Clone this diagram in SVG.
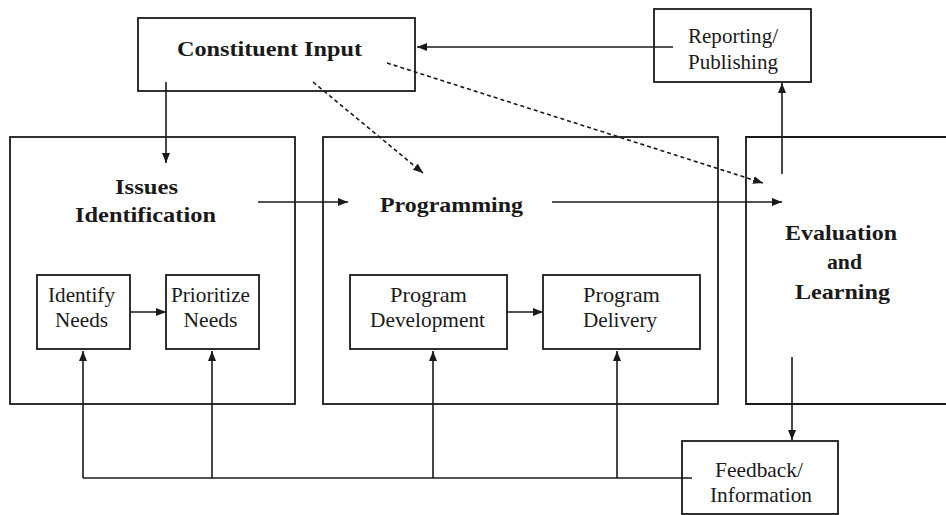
<svg xmlns="http://www.w3.org/2000/svg" width="946" height="515" viewBox="0 0 946 515">
<style>
.box{fill:none;stroke:#1a1a1a;stroke-width:1.8}
text{font-family:'Liberation Serif','DejaVu Serif',Times,serif;fill:#1a1a1a;text-anchor:middle}
.t{font-size:22px}
.b{font-size:21px;font-weight:bold}
.c{fill:none;stroke:#1a1a1a;stroke-width:1.6}
.d{stroke-dasharray:4 3}
</style>
<defs>
<marker id="ah" markerUnits="userSpaceOnUse" markerWidth="11" markerHeight="9" refX="10" refY="4" orient="auto">
<path d="M0,0 L10,4 L0,8 z" fill="#1a1a1a"/>
</marker>
</defs>
<rect width="946" height="515" fill="#fff"/>
<g id="constituent-input">
<rect class="box" x="138" y="18" width="277" height="73"/>
<text class="b" x="269.5" y="56" textLength="185" lengthAdjust="spacingAndGlyphs">Constituent Input</text>
</g>
<g id="reporting">
<rect class="box" x="654" y="9" width="157" height="73"/>
<text class="t" x="733" y="43" textLength="90" lengthAdjust="spacingAndGlyphs">Reporting/</text>
<text class="t" x="733" y="69" textLength="90" lengthAdjust="spacingAndGlyphs">Publishing</text>
</g>
<g id="issues-identification">
<rect class="box" x="10" y="137" width="285" height="267"/>
<text class="b" x="146.5" y="194" textLength="63" lengthAdjust="spacingAndGlyphs">Issues</text>
<text class="b" x="145.5" y="222" textLength="141" lengthAdjust="spacingAndGlyphs">Identification</text>
</g>
<g id="programming">
<rect class="box" x="323" y="137" width="395" height="267"/>
<text class="b" x="451.5" y="212" textLength="143" lengthAdjust="spacingAndGlyphs">Programming</text>
</g>
<g id="evaluation">
<path class="box" d="M950,137 H746 V404 H950"/>
<text class="b" x="841" y="240" textLength="112" lengthAdjust="spacingAndGlyphs">Evaluation</text>
<text class="b" x="844.5" y="269" textLength="35" lengthAdjust="spacingAndGlyphs">and</text>
<text class="b" x="842.5" y="299" textLength="95" lengthAdjust="spacingAndGlyphs">Learning</text>
</g>
<g id="identify-needs">
<rect class="box" x="37" y="275" width="93" height="74"/>
<text class="t" x="81.5" y="302" textLength="67" lengthAdjust="spacingAndGlyphs">Identify</text>
<text class="t" x="81.5" y="327" textLength="53" lengthAdjust="spacingAndGlyphs">Needs</text>
</g>
<g id="prioritize-needs">
<rect class="box" x="166" y="275" width="93" height="74"/>
<text class="t" x="210.5" y="302" textLength="79" lengthAdjust="spacingAndGlyphs">Prioritize</text>
<text class="t" x="210.5" y="327" textLength="54" lengthAdjust="spacingAndGlyphs">Needs</text>
</g>
<g id="program-development">
<rect class="box" x="350" y="275" width="157" height="74"/>
<text class="t" x="428.5" y="302" textLength="77" lengthAdjust="spacingAndGlyphs">Program</text>
<text class="t" x="427.5" y="327" textLength="115" lengthAdjust="spacingAndGlyphs">Development</text>
</g>
<g id="program-delivery">
<rect class="box" x="543" y="275" width="157" height="74"/>
<text class="t" x="621.5" y="302" textLength="77" lengthAdjust="spacingAndGlyphs">Program</text>
<text class="t" x="620" y="327" textLength="74" lengthAdjust="spacingAndGlyphs">Delivery</text>
</g>
<g id="feedback">
<rect class="box" x="682" y="441" width="156" height="73"/>
<text class="t" x="759" y="477" textLength="88" lengthAdjust="spacingAndGlyphs">Feedback/</text>
<text class="t" x="761" y="502" textLength="102" lengthAdjust="spacingAndGlyphs">Information</text>
</g>
<g id="connectors">
<line class="c" x1="673" y1="47" x2="417" y2="47" marker-end="url(#ah)"/>
<line class="c" x1="166" y1="82" x2="166" y2="163" marker-end="url(#ah)"/>
<line class="c d" x1="313" y1="82" x2="423" y2="173" marker-end="url(#ah)"/>
<line class="c d" x1="387" y1="63" x2="763" y2="183" marker-end="url(#ah)"/>
<line class="c" x1="258" y1="202" x2="348" y2="202" marker-end="url(#ah)"/>
<line class="c" x1="552" y1="202" x2="782" y2="202" marker-end="url(#ah)"/>
<line class="c" x1="782" y1="174" x2="782" y2="83" marker-end="url(#ah)"/>
<line class="c" x1="130" y1="312" x2="166" y2="312" marker-end="url(#ah)"/>
<line class="c" x1="507" y1="312" x2="543" y2="312" marker-end="url(#ah)"/>
<line class="c" x1="792" y1="357" x2="792" y2="440" marker-end="url(#ah)"/>
<polyline class="c" points="692,478 83,478"/>
<line class="c" x1="83" y1="478" x2="83" y2="351" marker-end="url(#ah)"/>
<line class="c" x1="212" y1="478" x2="212" y2="351" marker-end="url(#ah)"/>
<line class="c" x1="433" y1="478" x2="433" y2="351" marker-end="url(#ah)"/>
<line class="c" x1="617" y1="478" x2="617" y2="351" marker-end="url(#ah)"/>
</g>
</svg>
